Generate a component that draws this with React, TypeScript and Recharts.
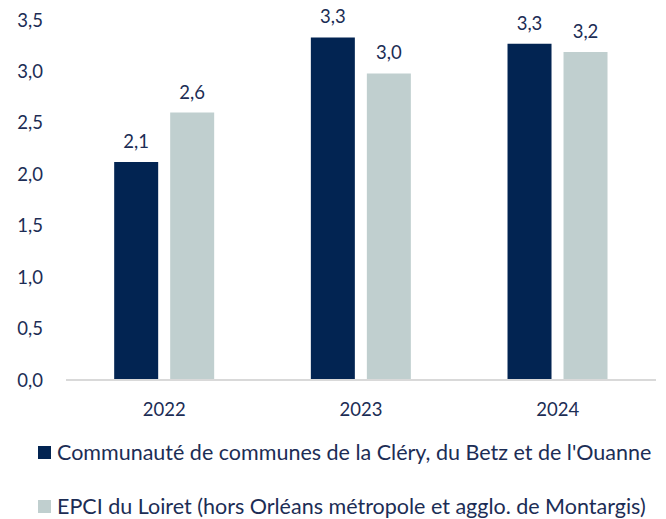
import { Bar, BarChart, LabelList, Legend, XAxis, YAxis } from "recharts";

const years = ["2022", "2023", "2024"];
const clery = [2.12, 3.33, 3.27];
const loiret = [2.6, 2.98, 3.19];
const yTicks = [0, 0.5, 1, 1.5, 2, 2.5, 3, 3.5];

const seriesNames = [
  "Communauté de communes de la Cléry, du Betz et de l'Ouanne",
  "EPCI du Loiret (hors Orléans métropole et agglo. de Montargis)",
];

const DARK = "#022452";
const LIGHT = "#c0cfcf";
const TEXT = "#1c2d55";
const FONT = "Lato, 'Open Sans', sans-serif";

const data = years.map((y, i) => ({ year: y, clery: clery[i], loiret: loiret[i] }));

const fmt = (v: number) => v.toFixed(1).replace(".", ",");

function LegendBox() {
  const colors = [DARK, LIGHT];
  return (
    <div style={{ fontFamily: FONT, fontSize: 21.5, color: TEXT, paddingTop: 6 }}>
      {seriesNames.map((name, i) => (
        <div
          key={name}
          style={{ display: "flex", alignItems: "center", height: 54, paddingLeft: 38 }}
        >
          <span
            style={{ width: 13, height: 13, background: colors[i], marginRight: 6, flexShrink: 0 }}
          />
          <span style={{ whiteSpace: "nowrap" }}>{name}</span>
        </div>
      ))}
    </div>
  );
}

export default function App() {
  return (
    <div style={{ position: "absolute", left: 0, top: 0, background: "#fff" }}>
      <BarChart
        width={666}
        height={519}
        data={data}
        margin={{ top: 20, right: 10, bottom: 0, left: 0 }}
        barCategoryGap="24.5%"
        barGap={12}
      >
        <XAxis
          dataKey="year"
          height={39}
          tickLine={false}
          tickSize={0}
          tickMargin={23}
          axisLine={{ stroke: "#d9d9d9", strokeWidth: 2 }}
          tick={{ fill: TEXT, fontSize: 18.5, fontFamily: FONT }}
        />
        <YAxis
          width={66}
          domain={[0, 3.5]}
          ticks={yTicks}
          interval={0}
          axisLine={false}
          tickLine={false}
          tickSize={8}
          tickMargin={15}
          tickFormatter={fmt}
          tick={{ fill: TEXT, fontSize: 18.5, fontFamily: FONT }}
        />
        <Legend verticalAlign="bottom" align="left" height={100} content={() => <LegendBox />} />
        <Bar dataKey="clery" fill={DARK} isAnimationActive={false}>
          <LabelList
            dataKey="clery"
            position="top"
            offset={14}
            formatter={(v: number) => fmt(v)}
            style={{ fill: TEXT, fontSize: 18.5, fontFamily: FONT }}
          />
        </Bar>
        <Bar dataKey="loiret" fill={LIGHT} isAnimationActive={false}>
          <LabelList
            dataKey="loiret"
            position="top"
            offset={14}
            formatter={(v: number) => fmt(v)}
            style={{ fill: TEXT, fontSize: 18.5, fontFamily: FONT }}
          />
        </Bar>
      </BarChart>
    </div>
  );
}
